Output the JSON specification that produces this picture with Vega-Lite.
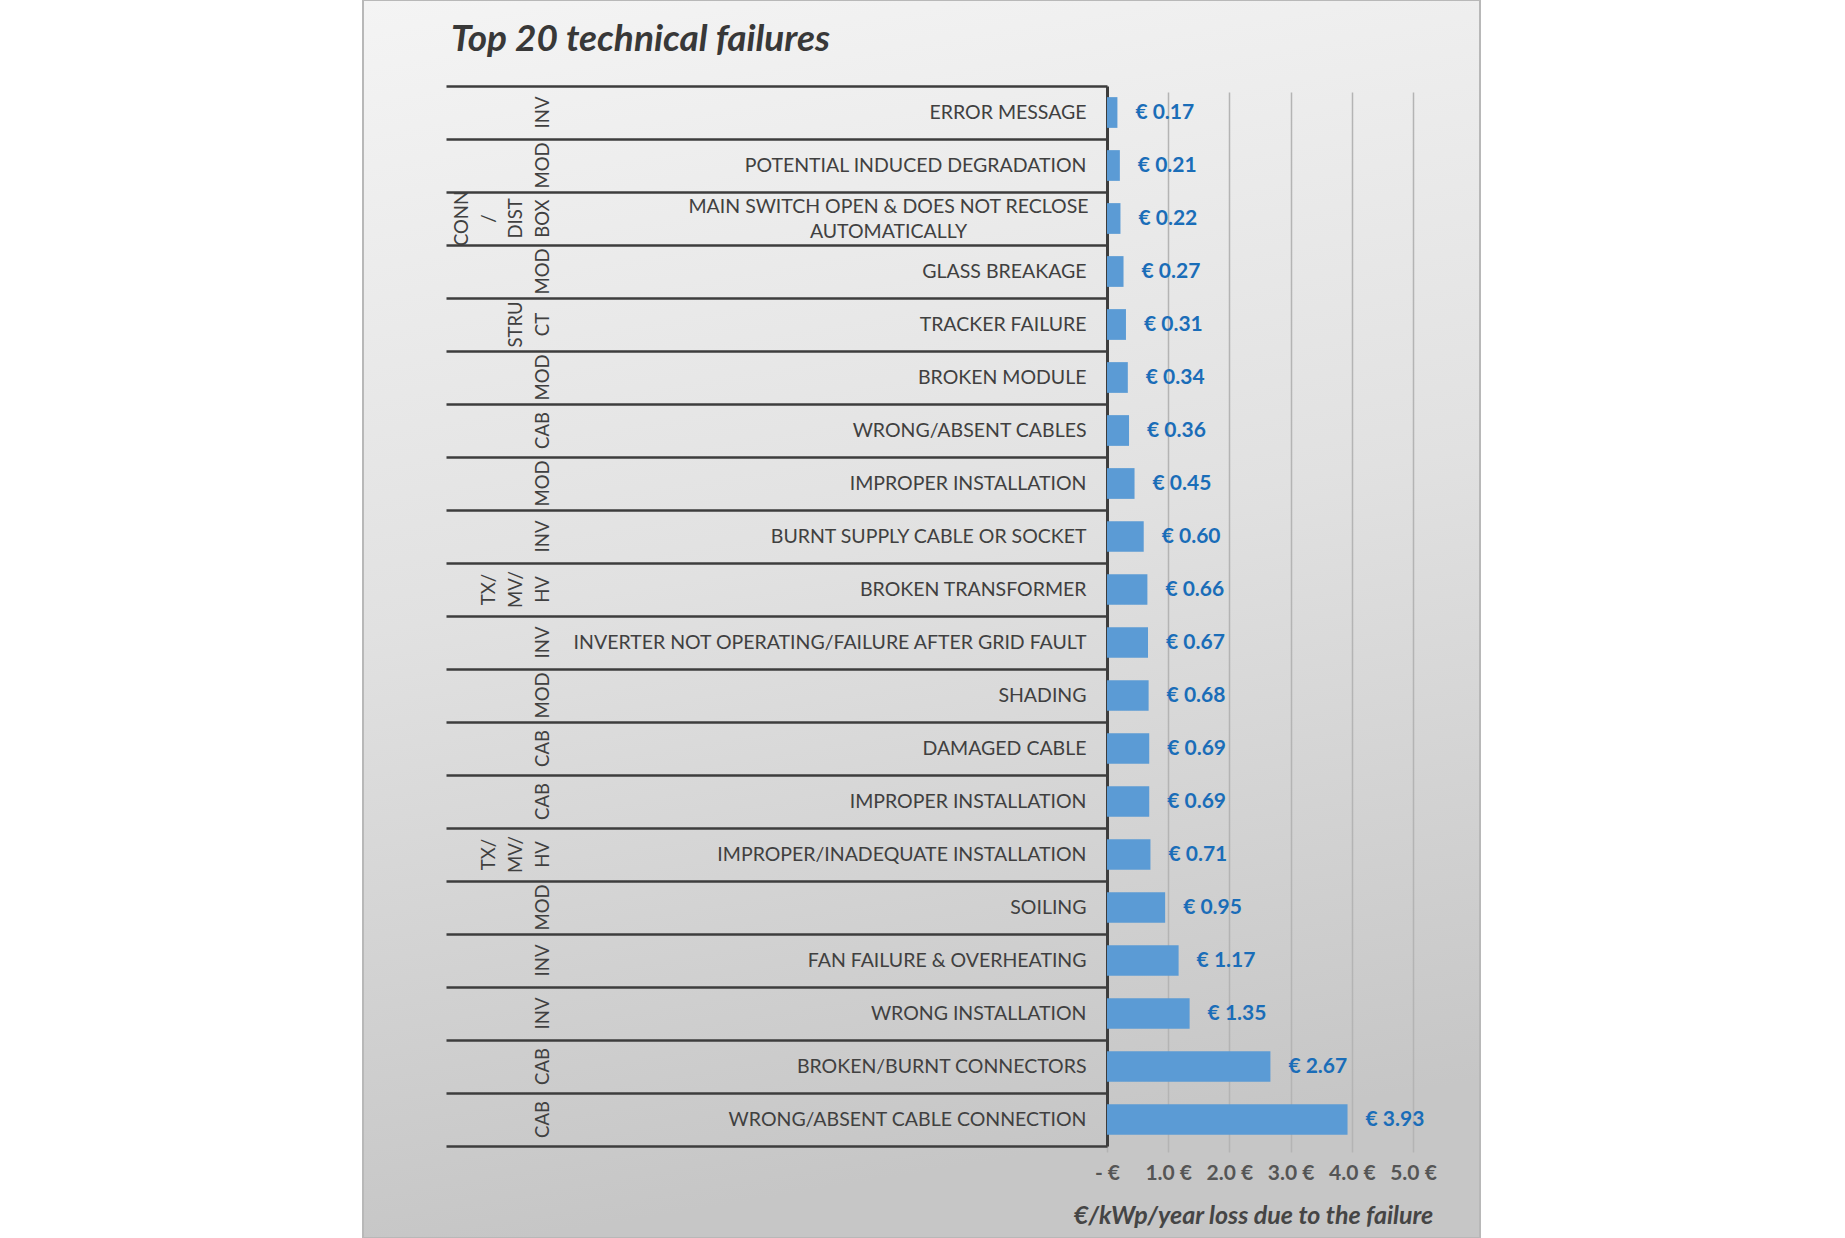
{
  "$schema": "https://vega.github.io/schema/vega-lite/v6.json",
  "width": 1117,
  "height": 1238,
  "autosize": {"type": "none"},
  "padding": {"left": 363, "right": 365, "top": 0, "bottom": 0},
  "background": "#ffffff",
  "title": {
    "text": "Top 20 technical failures",
    "anchor": "start",
    "frame": "group",
    "font": "Lato",
    "fontSize": 37,
    "fontWeight": "bold",
    "fontStyle": "italic",
    "color": "#383838",
    "offset": 0,
    "baseline": "top",
    "dx": 88,
    "dy": 59
  },
  "config": {
    "locale": {"number": {"decimal": ".", "thousands": ",", "grouping": [3], "currency": ["€ ", ""]}},
    "view": {
      "fill": {
        "gradient": "linear",
        "x1": 0, "y1": 0, "x2": 0.15, "y2": 1,
        "stops": [
          {"offset": 0, "color": "#f4f4f4"},
          {"offset": 0.5, "color": "#e1e1e1"},
          {"offset": 1, "color": "#c6c6c6"}
        ]
      },
      "stroke": "#b8b8b8",
      "strokeWidth": 2
    }
  },
  "data": {
    "values": [
      {"cat": "INV", "failure": "ERROR MESSAGE", "value": 0.17},
      {"cat": "MOD", "failure": "POTENTIAL INDUCED DEGRADATION", "value": 0.21},
      {"cat": "CONN~/~DIST~BOX", "failure": "MAIN SWITCH OPEN & DOES NOT RECLOSE~AUTOMATICALLY", "value": 0.22},
      {"cat": "MOD", "failure": "GLASS BREAKAGE", "value": 0.27},
      {"cat": "STRU~CT", "failure": "TRACKER FAILURE", "value": 0.31},
      {"cat": "MOD", "failure": "BROKEN MODULE", "value": 0.34},
      {"cat": "CAB", "failure": "WRONG/ABSENT CABLES", "value": 0.36},
      {"cat": "MOD", "failure": "IMPROPER INSTALLATION", "value": 0.45},
      {"cat": "INV", "failure": "BURNT SUPPLY CABLE OR SOCKET", "value": 0.60},
      {"cat": "TX/~MV/~HV", "failure": "BROKEN TRANSFORMER", "value": 0.66},
      {"cat": "INV", "failure": "INVERTER NOT OPERATING/FAILURE AFTER GRID FAULT", "value": 0.67},
      {"cat": "MOD", "failure": "SHADING", "value": 0.68},
      {"cat": "CAB", "failure": "DAMAGED CABLE", "value": 0.69},
      {"cat": "CAB", "failure": "IMPROPER INSTALLATION", "value": 0.69},
      {"cat": "TX/~MV/~HV", "failure": "IMPROPER/INADEQUATE  INSTALLATION", "value": 0.71},
      {"cat": "MOD", "failure": "SOILING", "value": 0.95},
      {"cat": "INV", "failure": "FAN FAILURE & OVERHEATING", "value": 1.17},
      {"cat": "INV", "failure": "WRONG INSTALLATION", "value": 1.35},
      {"cat": "CAB", "failure": "BROKEN/BURNT CONNECTORS", "value": 2.67},
      {"cat": "CAB", "failure": "WRONG/ABSENT CABLE CONNECTION", "value": 3.93}
    ]
  },
  "transform": [{"calculate": "datum.cat + '#' + datum.failure", "as": "key"}],
  "encoding": {
    "x": {
      "field": "value",
      "type": "quantitative",
      "scale": {"domain": [0, 5], "range": [744, 1050], "nice": false, "zero": true},
      "axis": {
        "orient": "bottom",
        "offset": -92,
        "domain": false,
        "ticks": false,
        "grid": true,
        "gridColor": "#b4b4b4",
        "gridWidth": 1.5,
        "values": [0, 1, 2, 3, 4, 5],
        "labelExpr": "datum.value == 0 ? '-  €' : format(datum.value, '.1f') + ' €'",
        "labelFont": "Lato",
        "labelFontSize": 21,
        "labelFontWeight": "bold",
        "labelColor": "#555555",
        "labelPadding": 16,
        "labelBaseline": "top",
        "labelFlush": false,
        "labelOverlap": false,
        "title": "€/kWp/year loss due to the failure",
        "titleFont": "Lato",
        "titleFontSize": 25,
        "titleFontWeight": "bold",
        "titleFontStyle": "italic",
        "titleColor": "#454545",
        "titlePadding": 20,
        "titleX": 890,
        "titleAlign": "center"
      }
    }
  },
  "layer": [
    {
      "mark": {"type": "bar", "color": "#5b9bd5", "height": {"band": 0.58}},
      "encoding": {
        "y": {
          "field": "key",
          "type": "nominal",
          "sort": null,
          "scale": {"range": [86, 1146], "paddingInner": 0, "paddingOuter": 0},
          "axis": {
            "orient": "left",
            "offset": -744,
            "title": null,
            "labels": false,
            "ticks": true,
            "tickBand": "extent",
            "tickSize": 661,
            "tickWidth": 2.5,
            "tickColor": "#3d3d3d",
            "domain": true,
            "domainWidth": 3,
            "domainColor": "#3d3d3d",
            "grid": false
          }
        }
      }
    },
    {
      "mark": {"type": "text", "align": "left", "baseline": "middle", "dx": 18, "font": "Lato", "fontSize": 21, "fontWeight": "bold", "color": "#1a6db8"},
      "encoding": {
        "y": {
          "field": "key",
          "type": "nominal",
          "sort": null,
          "axis": {
            "orient": "left",
            "offset": -744,
            "title": null,
            "ticks": false,
            "tickSize": 0,
            "domain": false,
            "grid": false,
            "labelExpr": "split(split(datum.label, '#')[1], '~')",
            "labelFont": "Lato",
            "labelFontSize": 19.5,
            "labelColor": "#404040",
            "labelLimit": 0,
            "labelOverlap": false,
            "labelLineHeight": 25,
            "labelAlign": {"condition": {"test": "indexof(datum.value, 'AUTOMATICALLY') >= 0", "value": "center"}, "value": "right"},
            "labelPadding": {"condition": {"test": "indexof(datum.value, 'AUTOMATICALLY') >= 0", "value": 219}, "value": 21},
            "labelOffset": {"condition": {"test": "indexof(datum.value, 'AUTOMATICALLY') >= 0", "value": -12}, "value": 0}
          }
        },
        "text": {"field": "value", "type": "quantitative", "format": "$.2f"}
      }
    },
    {
      "mark": {"type": "bar", "opacity": 0, "height": {"band": 0.58}},
      "encoding": {
        "y": {
          "field": "key",
          "type": "nominal",
          "sort": null,
          "axis": {
            "orient": "left",
            "offset": -744,
            "title": null,
            "ticks": false,
            "tickSize": 0,
            "domain": false,
            "grid": false,
            "labelExpr": "split(split(datum.label, '#')[0], '~')",
            "labelAngle": 270,
            "labelAlign": "center",
            "labelBaseline": "bottom",
            "labelPadding": {
              "condition": [
                {"test": "length(split(split(datum.value, '#')[0], '~')) == 4", "value": 636},
                {"test": "length(split(split(datum.value, '#')[0], '~')) == 3", "value": 609},
                {"test": "length(split(split(datum.value, '#')[0], '~')) == 2", "value": 582}
              ],
              "value": 555
            },
            "labelFont": "Lato",
            "labelFontSize": 18.5,
            "labelColor": "#404040",
            "labelLineHeight": 27,
            "labelLimit": 0,
            "labelOverlap": false
          }
        }
      }
    }
  ],
  "resolve": {"axis": {"y": "independent"}}
}
